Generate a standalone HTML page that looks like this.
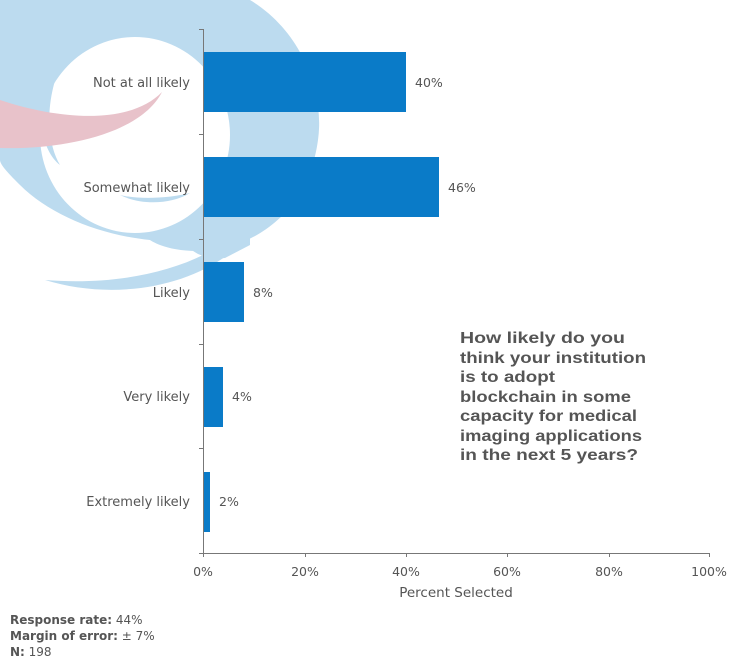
<!DOCTYPE html>
<html><head><meta charset="utf-8"><style>
body{margin:0;background:#fff;}
svg{display:block;font-family:"DejaVu Sans",Verdana,sans-serif;}
</style></head><body>
<svg width="738" height="661" viewBox="0 0 738 661">
<g fill="#bcdbef">
<path d="M0,0 L250,0 C300,30 325,90 318,140 C310,200 270,240 215,250 C170,255 150,240 150,240 C100,235 50,215 20,185 C10,175 0,165 0,160 Z"/>
<path d="M45,280 C110,300 190,290 240,245 L232,238 C180,275 110,285 45,280 Z"/>
<path d="M180,200 C170,235 190,262 225,258 L250,245 L250,190 Z"/>
</g>
<ellipse cx="135" cy="135" rx="95" ry="98" fill="#fff"/>
<path d="M60,60 C30,100 40,150 60,165 C45,140 45,95 65,55 Z" fill="#bcdbef"/>
<path d="M0,100 C60,120 130,125 162,92 C140,135 60,150 0,148 Z" fill="#e8c2ca"/>
<path d="M120,195 C140,200 170,198 190,193 C170,205 140,205 120,195 Z" fill="#bcdbef"/>
<g fill="#0a7bc8">
<rect x="203" y="52" width="203" height="60"/>
<rect x="203" y="157" width="236" height="60"/>
<rect x="203" y="262" width="41" height="60"/>
<rect x="203" y="367" width="20" height="60"/>
<rect x="203" y="472" width="7" height="60"/>
</g>
<g stroke="#777" stroke-width="1" fill="none">
<line x1="203.5" y1="29" x2="203.5" y2="557"/>
<line x1="199" y1="553.5" x2="710" y2="553.5"/>
<line x1="199" y1="29.5" x2="203" y2="29.5"/>
<line x1="199" y1="134.5" x2="203" y2="134.5"/>
<line x1="199" y1="239.5" x2="203" y2="239.5"/>
<line x1="199" y1="344.5" x2="203" y2="344.5"/>
<line x1="199" y1="448.5" x2="203" y2="448.5"/>
<line x1="305.5" y1="553" x2="305.5" y2="557"/>
<line x1="406.5" y1="553" x2="406.5" y2="557"/>
<line x1="507.5" y1="553" x2="507.5" y2="557"/>
<line x1="609.5" y1="553" x2="609.5" y2="557"/>
<line x1="709.5" y1="553" x2="709.5" y2="557"/>
</g>
<g fill="#555" font-size="13" text-anchor="end">
<text x="190" y="87">Not at all likely</text>
<text x="190" y="192">Somewhat likely</text>
<text x="190" y="297">Likely</text>
<text x="190" y="401">Very likely</text>
<text x="190" y="506">Extremely likely</text>
</g>
<g fill="#555" font-size="12.5">
<text x="415" y="87">40%</text>
<text x="448" y="192">46%</text>
<text x="253" y="297">8%</text>
<text x="232" y="401">4%</text>
<text x="219" y="506">2%</text>
</g>
<g fill="#555" font-size="12.5" text-anchor="middle">
<text x="203" y="576">0%</text>
<text x="305" y="576">20%</text>
<text x="406" y="576">40%</text>
<text x="507" y="576">60%</text>
<text x="609" y="576">80%</text>
<text x="709" y="576">100%</text>
<text x="456" y="597" font-size="13.5">Percent Selected</text>
</g>
<g fill="#555" font-size="16" font-weight="bold" font-family="Liberation Sans, sans-serif">
<text x="460" y="343" textLength="165" lengthAdjust="spacingAndGlyphs">How likely do you</text>
<text x="460" y="363" textLength="186" lengthAdjust="spacingAndGlyphs">think your institution</text>
<text x="460" y="382" textLength="95" lengthAdjust="spacingAndGlyphs">is to adopt</text>
<text x="460" y="402" textLength="171" lengthAdjust="spacingAndGlyphs">blockchain in some</text>
<text x="460" y="421" textLength="177" lengthAdjust="spacingAndGlyphs">capacity for medical</text>
<text x="460" y="441" textLength="182" lengthAdjust="spacingAndGlyphs">imaging applications</text>
<text x="460" y="460" textLength="178" lengthAdjust="spacingAndGlyphs">in the next 5 years?</text>
</g>
<g fill="#555" font-size="12">
<text x="10" y="624"><tspan font-weight="bold">Response rate:</tspan> 44%</text>
<text x="10" y="640"><tspan font-weight="bold">Margin of error:</tspan> ± 7%</text>
<text x="10" y="656"><tspan font-weight="bold">N:</tspan> 198</text>
</g>
</svg>
</body></html>
